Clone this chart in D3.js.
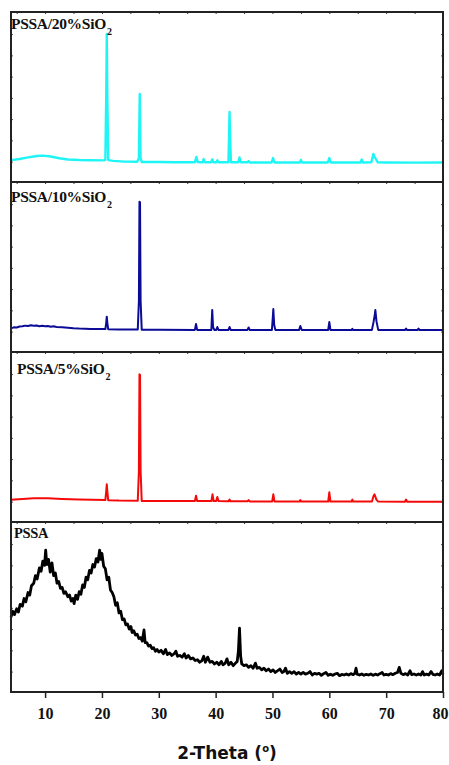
<!DOCTYPE html>
<html>
<head>
<meta charset="utf-8">
<script src="https://cdn.jsdelivr.net/npm/d3@7/dist/d3.min.js"></script>
<style>
  body { margin: 0; background: #fff; }
</style>
</head>
<body>
<div id="chart"></div>
<script>
// panel labels / colours, top to bottom
const panelNames = ['PSSA/20%SiO', 'PSSA/10%SiO', 'PSSA/5%SiO', 'PSSA']
const panelSubs = ['2', '2', '2', '']
const panelColors = ['#1FF5F5', '#0B0B98', '#F50A0A', '#000000']

const xTicks = [10, 20, 30, 40, 50, 60, 70, 80]
const xMinorTicks = [5, 15, 25, 35, 45, 55, 65, 75]
const yTicks = [12, 24.5, 37, 49.5, 62, 74.5, 87]

// [2-theta, intensity (a.u., 0-100 per panel)]
const pssa20 = [[4,12.9],[5.5,13.5],[7,14.5],[8.5,15.3],[9.6,15.5],[11,15],[12.5,14],[14,13.2],[16,12.9],[18,12.8],[20,12.7],
  [20.6,12.9],[20.75,50],[20.85,87.1],[20.95,50],[21.1,12.9],[22,12.4],[24,12],[26.2,11.9],[26.5,14],[26.65,51.8],[26.8,14],
  [27.0,11.8],[30,11.8],[33,11.6],[36.35,11.6],[36.6,14.7],[36.85,11.7],[37.7,11.6],[37.9,13.5],[38.1,11.6],[39.2,11.6],
  [39.4,13.3],[39.6,11.6],[40.1,11.6],[40.3,12.8],[40.5,11.6],[42.25,11.6],[42.35,25],[42.45,41.2],[42.55,25],[42.7,11.6],
  [44.0,11.6],[44.2,14.4],[44.45,11.6],[45.6,11.6],[45.8,12.4],[46.0,11.5],[49.85,11.5],[50.1,14.1],[50.35,11.5],[54.8,11.5],
  [55.0,13],[55.2,11.5],[59.75,11.5],[60.0,14.1],[60.25,11.5],[65.5,11.5],[65.7,13.2],[65.9,11.5],[67.4,11.6],[67.75,16.5],
  [68.0,14.5],[68.2,13.5],[68.5,11.6],[70,11.5],[75,11.4],[80,11.5]]

const pssa10 = [[4,13.9],[4.5,14.5],[5,14.4],[5.5,15],[6,15.1],[6.5,15.5],[7,15.3],[7.5,15.7],[8,15.5],[8.5,15.6],[9,15.2],
  [9.5,15.4],[10,15.1],[10.5,15.3],[11,14.9],[11.5,15.1],[12,14.7],[13,14.5],[14,14.3],[15,14],[16,13.8],[17,13.7],[18,13.6],
  [19,13.5],[20.6,13.5],[20.75,17],[20.85,20.8],[20.95,17],[21.1,13.4],[23,13.3],[26.3,13.2],[26.5,30],[26.6,88.4],[26.7,88],
  [26.8,30],[27.0,13.1],[30,13.1],[36.35,13],[36.55,16.5],[36.75,13],[39.25,13],[39.4,24.7],[39.55,14.5],[39.8,13],[40.1,13],
  [40.3,14.7],[40.5,13],[42.25,13],[42.45,14.7],[42.65,13],[45.6,13],[45.8,14.4],[46.0,13],[49.9,13],[50.05,20],[50.15,25.3],
  [50.3,16],[50.5,13],[54.7,13],[54.9,15.3],[55.15,13],[59.8,13],[60.0,17.6],[60.2,13],[63.9,12.9],[64.05,13.6],[64.2,12.9],
  [67.5,13],[67.8,18],[68.0,22],[68.1,24.7],[68.3,18],[68.6,13],[73.3,12.9],[73.5,13.8],[73.7,12.9],[75.5,12.9],[75.7,13.8],
  [75.9,12.9],[80,12.9]]

const pssa5 = [[4,13.1],[6,13.6],[8,13.9],[10.5,13.9],[13,13.5],[16,13.2],[20.6,12.9],[20.75,18],[20.85,22.2],[20.95,18],
  [21.1,12.8],[23,12.6],[26.3,12.5],[26.5,30],[26.6,86.9],[26.7,86.5],[26.8,30],[27.0,12.4],[30,12.4],[36.35,12.3],[36.55,15.5],
  [36.75,12.3],[39.25,12.3],[39.45,16.3],[39.65,12.3],[40.1,12.3],[40.3,14.7],[40.5,12.3],[42.3,12.2],[42.45,13.2],[42.6,12.2],
  [45.6,12.2],[45.8,12.9],[46.0,12.1],[49.95,12.1],[50.15,16.3],[50.35,12.1],[54.75,12],[54.9,12.9],[55.05,12],[59.8,12],
  [60.0,17.5],[60.2,12],[63.9,12],[64.05,13.2],[64.2,12],[67.5,12],[67.75,15],[67.95,16.3],[68.3,13],[68.6,12],[73.3,11.9],
  [73.5,13.2],[73.7,11.9],[80,11.9]]

const pssa = [[4.0,44],[4.3,47.5],[4.6,45.5],[5.0,49],[5.3,47],[5.6,51.5],[6.0,50.5],[6.3,55],[6.6,53],[7.0,58.5],[7.3,57],
  [7.6,62.5],[8.0,64],[8.3,68.5],[8.6,66.5],[9.0,73],[9.3,71],[9.6,77],[9.9,74.5],[10.1,83.5],[10.3,75],[10.6,78],[10.9,70.5],
  [11.2,76],[11.5,68.5],[11.8,70],[12.1,64],[12.4,65],[12.7,61],[13.0,61.5],[13.3,58],[13.6,59],[14.0,56],[14.3,57],[14.6,53.5],
  [14.9,55],[15.1,52],[15.4,57],[15.7,54.5],[16.0,59],[16.3,57.5],[16.6,63],[16.9,61.5],[17.2,67.5],[17.5,66],[17.8,71.5],
  [18.1,70],[18.4,75],[18.7,73.5],[19.0,78.5],[19.3,76.5],[19.6,83.5],[19.8,78],[20.0,81.5],[20.3,74],[20.6,72.5],[20.9,66],
  [21.2,67.5],[21.5,60],[21.8,58.5],[22.1,56],[22.4,51],[22.7,52.5],[23.0,46.5],[23.3,47.5],[23.6,42.5],[23.9,43],[24.2,39.5],
  [24.5,40],[24.8,37],[25.1,38.5],[25.3,35],[25.6,36],[25.9,33.5],[26.2,34],[26.5,31.5],[26.8,32],[27.1,30],[27.4,36.5],
  [27.6,29],[27.9,29],[28.2,27],[28.5,27.5],[28.8,25.5],[29.1,26],[29.4,24],[29.7,25],[30.0,23.5],[30.4,24.5],[30.8,22.5],
  [31.2,25],[31.5,22],[31.9,23],[32.3,21.5],[32.7,22.5],[33.0,24],[33.3,21],[33.7,21.5],[34.1,20.5],[34.5,22.5],[34.8,20],
  [35.2,21.5],[35.6,19.5],[36.0,20],[36.4,18.5],[36.8,19],[37.2,17.5],[37.6,18.5],[37.9,21],[38.2,17.5],[38.6,20.5],[39.0,17.5],
  [39.4,18],[39.8,16.5],[40.2,17.5],[40.6,16],[41.0,18],[41.3,16],[41.7,17],[42.0,19.5],[42.3,16],[42.7,17.5],[43.1,15.5],
  [43.5,17],[43.8,18],[44.0,24],[44.2,37.5],[44.4,21],[44.6,16.5],[45.0,15.5],[45.4,16],[45.8,14.5],[46.2,15.5],[46.6,14],
  [47.0,17],[47.3,14],[47.7,14.5],[48.1,13],[48.5,14],[48.9,12.5],[49.3,13.5],[49.7,12],[50.1,13],[50.5,11.5],[50.9,12.5],
  [51.3,13.5],[51.7,11.5],[52.0,12],[52.3,14],[52.6,11],[53.0,12],[53.4,11],[53.8,12],[54.2,10.5],[54.6,11.5],[55.0,10.5],
  [55.4,11.5],[55.8,10.5],[56.2,11],[56.6,12],[57.0,10],[57.4,11],[57.8,10.5],[58.2,11],[58.6,9.8],[59.0,10.8],[59.4,11.5],
  [59.8,9.8],[60.2,10.5],[60.6,9.8],[61.0,10.6],[61.4,11],[61.8,9.6],[62.2,10.3],[62.6,10],[63.0,10.6],[63.4,10],[63.8,10.8],
  [64.2,10.2],[64.5,11],[64.7,14],[64.9,10.5],[65.3,10],[65.7,10.6],[66.1,9.8],[66.5,10.4],[66.9,10],[67.3,10.6],[67.7,9.8],
  [68.1,10.5],[68.5,10],[68.9,10.8],[69.3,11.5],[69.6,10],[70.0,10.4],[70.4,10],[70.8,10.8],[71.2,10.2],[71.6,11],[72.0,11.5],
  [72.3,14.5],[72.6,11],[73.0,10.2],[73.4,10.8],[73.8,10],[74.2,12.5],[74.5,10.2],[74.9,10.6],[75.3,10],[75.7,10.6],[76.1,10],
  [76.4,12],[76.7,10],[77.1,10.5],[77.5,10],[77.9,12],[78.2,10.4],[78.6,10],[79.0,10.6],[79.4,10],[79.8,12.5],[80.0,10.4]]

const allSeries = [pssa20, pssa10, pssa5, pssa]
const lineWidths = [2.4, 2, 2, 2.8]

const svgW = 449
const svgH = 765
const plotLeft = 11
const plotRight = 443
const plotTop = 12
const panelH = 170

const svg = d3.select('#chart')
  .append('svg')
  .attr('width', svgW)
  .attr('height', svgH)

const x = d3.scaleLinear().domain([4, 80]).range([plotLeft, plotRight])

const makeLine = (y) => d3.line()
  .x(d => x(d[0]))
  .y(d => y(d[1]))

const labelPos = [[11, 29], [11, 201.5], [17, 374], [14, 538]]

allSeries.forEach((data, i) => {
  const y0 = plotTop + i * panelH
  const y = d3.scaleLinear().domain([0, 100]).range([y0 + panelH, y0])
  const g = svg.append('g')

  // top axis: small inward ticks
  g.append('g')
    .attr('transform', `translate(0,${y0})`)
    .call(d3.axisBottom(x).tickValues(xTicks.concat(xMinorTicks)).tickSize(2).tickFormat(''))
    .call(a => a.select('.domain').remove())
    .call(a => a.selectAll('line').attr('stroke', '#333'))

  // left / right ticks
  g.append('g')
    .attr('transform', `translate(${plotLeft},0)`)
    .call(d3.axisRight(y).tickValues(yTicks).tickSize(2).tickFormat(''))
    .call(a => a.select('.domain').remove())
    .call(a => a.selectAll('line').attr('stroke', '#555'))
  g.append('g')
    .attr('transform', `translate(${plotRight},0)`)
    .call(d3.axisLeft(y).tickValues(yTicks).tickSize(2).tickFormat(''))
    .call(a => a.select('.domain').remove())
    .call(a => a.selectAll('line').attr('stroke', '#555'))

  g.append('path')
    .datum(data)
    .attr('fill', 'none')
    .attr('stroke', panelColors[i])
    .attr('stroke-width', lineWidths[i])
    .attr('stroke-linejoin', 'round')
    .attr('d', makeLine(y))

  g.append('rect')
    .attr('x', plotLeft)
    .attr('y', y0)
    .attr('width', plotRight - plotLeft)
    .attr('height', panelH)
    .attr('fill', 'none')
    .attr('stroke', '#222')
    .attr('stroke-width', 2)

  const t = g.append('text')
    .attr('x', labelPos[i][0])
    .attr('y', labelPos[i][1])
    .attr('font-family', '"Liberation Serif", "Times New Roman", serif')
    .attr('font-weight', 'bold')
    .attr('font-size', i === 3 ? 14.5 : 15.5)
    .attr('letter-spacing', -0.3)
    .attr('fill', '#111')
    .text(panelNames[i])
  if (panelSubs[i]) {
    t.append('tspan')
      .attr('font-size', 10)
      .attr('dx', 1)
      .attr('dy', 6)
      .text(panelSubs[i])
  }
})

// bottom axis
const plotBottom = plotTop + 4 * panelH
svg.append('g')
  .attr('transform', `translate(0,${plotBottom})`)
  .call(d3.axisBottom(x).tickValues(xTicks).tickSize(6).tickPadding(10).tickFormat(d3.format('d')))
  .call(a => a.select('.domain').remove())
  .call(a => a.selectAll('line').attr('stroke', '#222').attr('stroke-width', 1.5))
  .call(a => a.selectAll('text')
    .attr('font-family', '"Liberation Serif", "Times New Roman", serif')
    .attr('font-weight', 'bold')
    .attr('font-size', 16)
    .attr('fill', '#111')
    .attr('dx', d => d === 80 ? -3 : 0))

const title = svg.append('text')
  .attr('x', 227)
  .attr('y', 759)
  .attr('text-anchor', 'middle')
  .attr('font-family', '"DejaVu Sans", Verdana, sans-serif')
  .attr('font-weight', 'bold')
  .attr('font-size', 17)
  .attr('fill', '#111')
  .text('2-Theta (')
title.append('tspan').attr('font-size', 10).attr('dy', -7).text('o')
title.append('tspan').attr('dy', 7).text(')')
</script>
</body>
</html>
